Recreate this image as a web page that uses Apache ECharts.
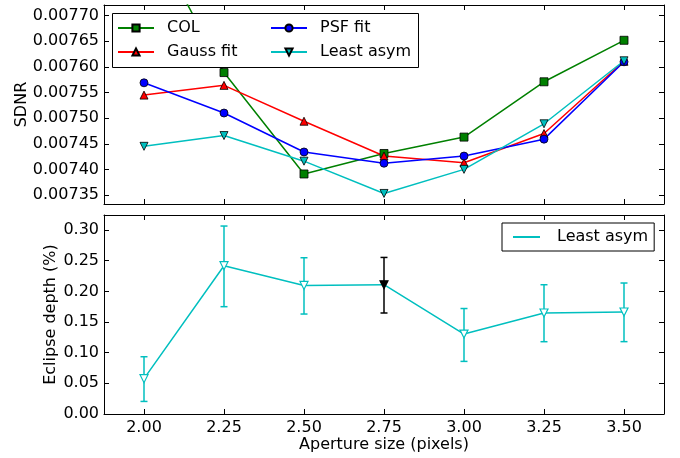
<!DOCTYPE html>
<html>
<head>
<meta charset="utf-8">
<script src="https://cdn.jsdelivr.net/npm/echarts@6/dist/echarts.min.js"></script>
<style>html,body{margin:0;padding:0;background:#fff}#c{width:680px;height:458px}</style>
</head>
<body>
<div id="c"></div>
<script>
// ---- data ----
var apertures = [2.00, 2.25, 2.50, 2.75, 3.00, 3.25, 3.50];
var colSDNR   = [0.00788, 0.007589, 0.007391, 0.007431, 0.007463, 0.007571, 0.007652];
var gaussSDNR = [0.007545, 0.007564, 0.007494, 0.007426, 0.007413, 0.007470, 0.007611];
var psfSDNR   = [0.007569, 0.007510, 0.007434, 0.007412, 0.007426, 0.007459, 0.007610];
var asymSDNR  = [0.007445, 0.007466, 0.007416, 0.007353, 0.007400, 0.007489, 0.007612];
var depth     = [0.0576, 0.2418, 0.2097, 0.2108, 0.1304, 0.1647, 0.1663];
var depthLow  = [0.0205, 0.1750, 0.1630, 0.1647, 0.0858, 0.1179, 0.1180];
var depthHigh = [0.0934, 0.3065, 0.2548, 0.2553, 0.1720, 0.2108, 0.2136];
var chosenIndex = 3;
var xTicks = [2.00, 2.25, 2.50, 2.75, 3.00, 3.25, 3.50];
var sdnrTicks = [0.00735, 0.00740, 0.00745, 0.00750, 0.00755, 0.00760, 0.00765, 0.00770];
var depthTicks = [0, 0.05, 0.10, 0.15, 0.20, 0.25, 0.30];

var FONT = 'DejaVu Sans';
var GREEN = '#008000', RED = '#FF0000', BLUE = '#0000FF', CYAN = '#00BFBF';
var TRI_DOWN = 'path://M0,0 L10,0 L5,10 Z';

function pair(xs, ys) { return xs.map(function (x, i) { return [x, ys[i]]; }); }

var xMin = 1.875, xMax = 3.625;
function xAxisDef(gridIndex, pos, showLabel, name) {
  return {
    type: 'value', gridIndex: gridIndex, position: pos, min: xMin, max: xMax,
    axisLine: { show: true, onZero: false, lineStyle: { color: '#000', width: 1 } },
    axisTick: { show: true, inside: true, length: 5, customValues: xTicks, lineStyle: { color: '#000' } },
    axisLabel: { show: showLabel, customValues: xTicks, margin: 6, color: '#000', fontSize: 16, fontFamily: FONT,
      formatter: function (v) { return v.toFixed(2); } },
    splitLine: { show: false },
    name: name || '', nameLocation: 'middle', nameGap: 23, nameMoveOverlap: false,
    nameTextStyle: { color: '#000', fontSize: 16, fontFamily: FONT }
  };
}
function yAxisDef(gridIndex, pos, min, max, ticks, dec, showLabel, name, gap) {
  return {
    type: 'value', gridIndex: gridIndex, position: pos, min: min, max: max,
    axisLine: { show: true, onZero: false, lineStyle: { color: '#000', width: 1 } },
    axisTick: { show: true, inside: true, length: 5, customValues: ticks, lineStyle: { color: '#000' } },
    axisLabel: { show: showLabel, customValues: ticks, margin: 5, color: '#000', fontSize: 16, fontFamily: FONT,
      formatter: function (v) { return v.toFixed(dec); } },
    splitLine: { show: false },
    name: name || '', nameLocation: 'middle', nameGap: gap || 0, nameMoveOverlap: false,
    nameTextStyle: { color: '#000', fontSize: 16, fontFamily: FONT }
  };
}

function lineSeries(name, ys, color, symbol) {
  return {
    type: 'line', name: name, xAxisIndex: 0, yAxisIndex: 0, data: pair(apertures, ys),
    symbol: symbol, symbolSize: 8, showAllSymbol: true,
    lineStyle: { color: color, width: 1.5 },
    itemStyle: { color: color, borderColor: '#000', borderWidth: 0.8 },
    emphasis: { disabled: true }, animation: false, clip: true
  };
}

var depthData = apertures.map(function (x, i) {
  var item = { value: [x, depth[i]] };
  if (i === chosenIndex) item.itemStyle = { color: '#000', borderColor: '#000' };
  return item;
});
var errData = apertures.map(function (x, i) { return [x, depthLow[i], depthHigh[i], i === chosenIndex ? 1 : 0]; });

var richT = { t: { fontSize: 16, fontFamily: FONT, color: '#000', padding: [0, 0, 0, 8] } };
function topLegend(left, names) {
  return {
    orient: 'vertical', left: left, top: 20, padding: 0, itemGap: 8, itemWidth: 36, itemHeight: 9,
    data: names, z: 6,
    formatter: function (n) { return '{t|' + n + '}'; },
    textStyle: { fontSize: 16, fontFamily: FONT, color: '#000', rich: richT },
    selectedMode: false
  };
}

var option = {
  animation: false,
  backgroundColor: '#fff',
  grid: [
    { left: 104, right: 16, top: 5, height: 199 },
    { left: 104, right: 16, top: 215, height: 199 }
  ],
  graphic: [
    { type: 'rect', left: 112, top: 13, z: 5,
      shape: { width: 306, height: 54 }, style: { fill: '#fff', stroke: '#000', lineWidth: 1 } }
  ],
  xAxis: [
    xAxisDef(0, 'bottom', false),
    xAxisDef(0, 'top', false),
    xAxisDef(1, 'bottom', true, 'Aperture size (pixels)'),
    xAxisDef(1, 'top', false)
  ],
  yAxis: [
    yAxisDef(0, 'left', 0.0073324, 0.0077209, sdnrTicks, 5, true, 'SDNR', 74),
    yAxisDef(0, 'right', 0.0073324, 0.0077209, sdnrTicks, 5, false),
    yAxisDef(1, 'left', 0, 0.3245, depthTicks, 2, true, 'Eclipse depth (%)', 45),
    yAxisDef(1, 'right', 0, 0.3245, depthTicks, 2, false)
  ],
  legend: [
    topLegend(117, ['COL', 'Gauss fit']),
    topLegend(270, ['PSF fit', 'Least asym']),
    {
      orient: 'horizontal', left: 502, top: 223,
      padding: [6, 6, 6, 11], itemWidth: 27, itemHeight: 2,
      borderColor: '#000', borderWidth: 1, backgroundColor: '#fff',
      data: [{ name: 'Least asym', icon: 'rect' }],
      itemStyle: { borderWidth: 0 },
      formatter: function (n) { return '{t|' + n + '}'; },
      textStyle: { fontSize: 16, fontFamily: FONT, color: '#000', rich: { t: { fontSize: 16, fontFamily: FONT, color: '#000', padding: [0, 0, 0, 12] } } },
      selectedMode: false
    }
  ],
  series: [
    lineSeries('COL', colSDNR, GREEN, 'rect'),
    lineSeries('Gauss fit', gaussSDNR, RED, 'triangle'),
    lineSeries('PSF fit', psfSDNR, BLUE, 'circle'),
    lineSeries('Least asym', asymSDNR, CYAN, TRI_DOWN),
    {
      type: 'custom', name: 'err', xAxisIndex: 2, yAxisIndex: 2, data: errData, clip: true,
      encode: { x: 0, y: [1, 2] },
      renderItem: function (params, api) {
        var x = api.value(0);
        var pLo = api.coord([x, api.value(1)]);
        var pHi = api.coord([x, api.value(2)]);
        var col = api.value(3) ? '#000' : CYAN;
        var st = { stroke: col, lineWidth: 1.5 };
        var hw = 3.5;
        return { type: 'group', children: [
          { type: 'line', shape: { x1: pHi[0], y1: pHi[1], x2: pLo[0], y2: pLo[1] }, style: st },
          { type: 'line', shape: { x1: pHi[0] - hw, y1: pHi[1], x2: pHi[0] + hw, y2: pHi[1] }, style: st },
          { type: 'line', shape: { x1: pLo[0] - hw, y1: pLo[1], x2: pLo[0] + hw, y2: pLo[1] }, style: st }
        ] };
      },
      z: 1
    },
    {
      type: 'line', name: 'Least asym', xAxisIndex: 2, yAxisIndex: 2, data: depthData,
      symbol: TRI_DOWN, symbolSize: 8, showAllSymbol: true,
      lineStyle: { color: CYAN, width: 1.5 },
      itemStyle: { color: '#fff', borderColor: CYAN, borderWidth: 1.2 },
      emphasis: { disabled: true }, z: 3
    }
  ]
};
var chart = echarts.init(document.getElementById('c'), null, { renderer: 'canvas' });
chart.setOption(option);
</script>
</body>
</html>
